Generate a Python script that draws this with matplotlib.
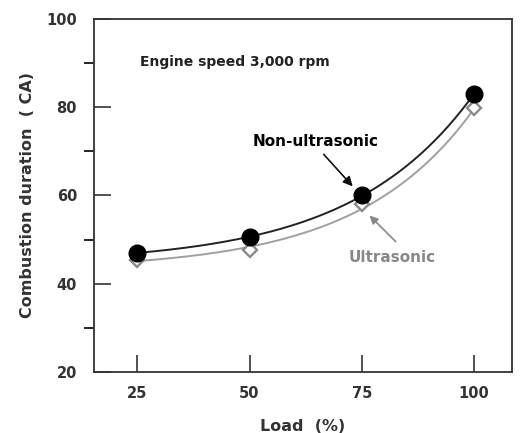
import numpy as np
import matplotlib
matplotlib.use('Agg')
import matplotlib.pyplot as plt

load = [25, 50, 75, 100]
non_ultrasonic = [47.0, 50.6, 60.0, 83.0]
ultrasonic = [45.3, 47.6, 58.0, 79.8]

plt.rcParams['font.family'] = ['DejaVu Sans']
plt.rcParams['font.weight'] = 'bold'
plt.rcParams['axes.labelweight'] = 'bold'


def exp_fit(x, y):
    # y = k + exp(a*x + b), offset k picked by least squares
    x = np.asarray(x, float)
    y = np.asarray(y, float)
    best = None
    for k in np.linspace(0, y.min() - 0.1, 400):
        a, b = np.polyfit(x, np.log(y - k), 1)
        err = np.sum((k + np.exp(a * x + b) - y) ** 2)
        if best is None or err < best[0]:
            best = (err, k, a, b)
    _, k, a, b = best
    return lambda t: k + np.exp(a * t + b)


fig = plt.figure(figsize=(5.21, 4.33), dpi=100)
ax = fig.add_axes([0.180, 0.141, 0.803, 0.815])

xs = np.linspace(25, 100, 200)
ax.plot(xs, exp_fit(load, ultrasonic)(xs), color='#a0a0a0', lw=1.4, zorder=2)
ax.plot(xs, exp_fit(load, non_ultrasonic)(xs), color='#222222', lw=1.4, zorder=3)
ax.plot(load, ultrasonic, 'D', ms=7.5, mfc='white', mec='#8a8a8a', mew=1.7, zorder=4)
ax.plot(load, non_ultrasonic, 'o', ms=12, color='black', zorder=5)

ax.set_xlim(15.3, 108.5)
ax.set_ylim(20, 100)
ax.set_xticks(load)
ax.set_yticks([20, 40, 60, 80, 100])
ax.set_yticks([30, 50, 70, 90], minor=True)
ax.tick_params(axis='both', direction='in', colors='#333333', labelsize=10.5)
ax.tick_params(axis='y', which='major', length=12, width=1.2, pad=12)
ax.tick_params(axis='y', which='minor', length=7, width=1.2)
ax.tick_params(axis='x', which='major', length=12, width=1.2, pad=10)
for s in ax.spines.values():
    s.set_linewidth(1.3)
    s.set_color('#333333')

ax.set_ylabel('Combustion duration  ( CA)', fontsize=11.5, color='#333333', labelpad=8)
ax.set_xlabel('Load  (%)', fontsize=11.5, color='#333333', labelpad=13)

ax.text(25.6, 90.2, 'Engine speed 3,000 rpm', fontsize=10, color='#222222', va='center')
ax.text(50.7, 72.3, 'Non-ultrasonic', fontsize=11, color='black', va='center')
ax.text(72.1, 45.9, 'Ultrasonic', fontsize=11, color='#888888', va='center')

ax.annotate('', xy=(73.4, 61.6), xytext=(66.1, 69.8),
            arrowprops=dict(arrowstyle='-|>', color='#111111', lw=1.2, mutation_scale=14))
ax.annotate('', xy=(76.3, 55.9), xytext=(83.0, 49.1),
            arrowprops=dict(arrowstyle='-|>', color='#888888', lw=1.2, mutation_scale=12))

fig.savefig('out.png', dpi=100)
